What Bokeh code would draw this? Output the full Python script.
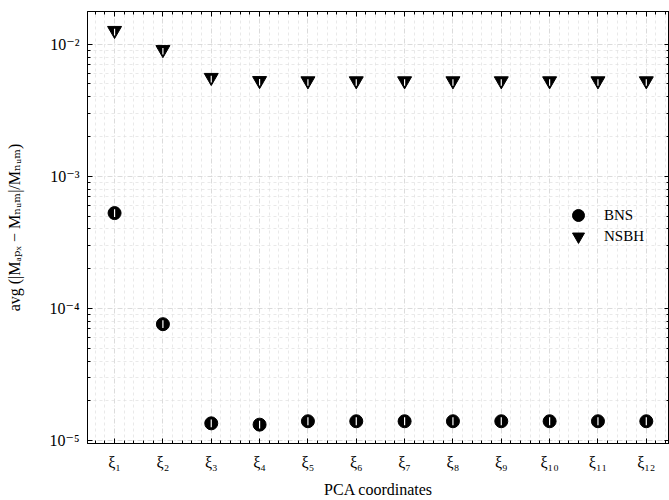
from bokeh.plotting import figure
from bokeh.models import (FixedTicker, LogAxis, LinearAxis, CustomJSTickFormatter,
                          Range1d, ColumnDataSource, Legend, LegendItem, CustomLabelingPolicy)
from bokeh.embed import file_html
from bokeh.resources import INLINE

# ---- data ----
coords = list(range(1, 13))
x_labels = ["ξ₁", "ξ₂", "ξ₃", "ξ₄", "ξ₅", "ξ₆", "ξ₇", "ξ₈", "ξ₉", "ξ₁₀", "ξ₁₁", "ξ₁₂"]
bns = [5.27e-4, 7.6e-5, 1.35e-5, 1.32e-5, 1.40e-5, 1.40e-5, 1.40e-5, 1.40e-5,
       1.40e-5, 1.40e-5, 1.40e-5, 1.40e-5]
nsbh = [1.27e-2, 9.1e-3, 5.6e-3, 5.3e-3, 5.28e-3, 5.28e-3, 5.28e-3, 5.28e-3,
        5.28e-3, 5.28e-3, 5.28e-3, 5.28e-3]
y_tick_vals = [1e-5, 1e-4, 1e-3, 1e-2]
y_tick_labels = ["10⁻⁵", "10⁻⁴", "10⁻³", "10⁻²"]
x_title = "PCA coordinates"
y_title = "avg (|Mₐₚₓ − Mₙᵤₘ|/Mₙᵤₘ)"
series_names = ["BNS", "NSBH"]

FONT = "Liberation Serif, DejaVu Serif, serif"

p = figure(width=669, height=500, output_backend="svg", toolbar_location=None,
           y_axis_type="log", x_axis_location=None, y_axis_location=None,
           x_range=Range1d(0.44, 12.48), y_range=Range1d(9.5e-6, 1.768e-2),
           min_border_left=87, min_border_right=0, min_border_top=11, min_border_bottom=54)
p.outline_line_color = "black"
p.outline_line_width = 1

# ticks
x_minor = [round(0.2 * k, 1) for k in range(2, 64) if k % 5 != 0]
xticker = FixedTicker(ticks=coords, minor_ticks=x_minor)
y_minor = []
for d in [1e-6, 1e-5, 1e-4, 1e-3, 1e-2]:
    for m in range(2, 10):
        y_minor.append(d * m)
yticker = FixedTicker(ticks=y_tick_vals, minor_ticks=y_minor)

xfmt = CustomJSTickFormatter(args=dict(labels=x_labels),
                             code="return labels[Math.round(tick) - 1];")
yfmt = CustomJSTickFormatter(args=dict(vals=y_tick_vals, labels=y_tick_labels), code="""
for (let i = 0; i < vals.length; i++) {
  if (Math.abs(Math.log10(tick) - Math.log10(vals[i])) < 1e-6) return labels[i];
}
return "";
""")

hide_all = CustomLabelingPolicy(code="""
const all = [...indices];
for (const i of all) indices.unset(i);
return indices;
""")

def style_axis(ax, show):
    ax.major_tick_in = 5
    ax.major_tick_out = 0
    ax.minor_tick_in = 3
    ax.minor_tick_out = 0
    ax.axis_line_color = "black"
    ax.major_tick_line_color = "black"
    ax.minor_tick_line_color = "black"
    ax.major_label_text_font = FONT
    ax.axis_label_text_font = FONT
    ax.axis_label_text_font_style = "normal"
    ax.major_label_text_color = "black"
    ax.axis_label_text_color = "black"
    if show:
        ax.major_label_text_font_size = "16px"
        ax.axis_label_text_font_size = "16px"
    else:
        ax.major_label_text_font_size = "0px"
        ax.major_label_standoff = 0
        ax.major_label_policy = hide_all

xb = LinearAxis(ticker=xticker, formatter=xfmt, axis_label=x_title)
style_axis(xb, True)
xb.major_label_standoff = 10
xb.axis_label_standoff = 7
p.add_layout(xb, "below")

xt = LinearAxis(ticker=xticker, formatter=xfmt)
style_axis(xt, False)
p.add_layout(xt, "above")

yl = LogAxis(ticker=yticker, formatter=yfmt, axis_label=y_title)
style_axis(yl, True)
yl.major_label_standoff = 8
yl.axis_label_standoff = 23
p.add_layout(yl, "left")

yr = LogAxis(ticker=yticker, formatter=yfmt)
style_axis(yr, False)
p.add_layout(yr, "right")

# grids
p.xgrid.ticker = xticker
p.ygrid.ticker = yticker
for g in (p.xgrid, p.ygrid):
    g.grid_line_color = "#d2d2d2"
    g.grid_line_dash = "5 2 1 2"
    g.grid_line_width = 0.8
    g.minor_grid_line_color = "#e0e0e0"
    g.minor_grid_line_dash = "3 3"
    g.minor_grid_line_width = 0.7

src = ColumnDataSource(dict(x=coords, bns=bns, nsbh=nsbh,
                            bns_lo=[v / 1.07 for v in bns], bns_hi=[v * 1.07 for v in bns],
                            nsbh_lo=[v / 1.09 for v in nsbh], nsbh_hi=[v * 1.03 for v in nsbh]))

r_bns = p.scatter("x", "bns", source=src, marker="circle", size=13,
                  fill_color="black", line_color="black")
r_nsbh = p.scatter("x", "nsbh", source=src, marker="inverted_triangle", size=14,
                   fill_color="black", line_color="black")
p.segment(x0="x", x1="x", y0="bns_lo", y1="bns_hi", source=src, line_color="white", line_width=1.2)
p.segment(x0="x", x1="x", y0="nsbh_lo", y1="nsbh_hi", source=src, line_color="white", line_width=1.2)

for name, rend, loc in [(series_names[0], r_bns, (476, 213)),
                        (series_names[1], r_nsbh, (476, 192))]:
    lg = Legend(items=[LegendItem(label=name, renderers=[rend])], location=loc)
    lg.border_line_color = None
    lg.background_fill_alpha = 0
    lg.label_text_font = FONT
    lg.label_text_font_size = "15px"
    lg.label_text_color = "black"
    lg.glyph_height = 30
    lg.glyph_width = 30
    lg.label_standoff = 11
    p.add_layout(lg, "center")

open("out.html", "w").write(file_html(p, INLINE))
